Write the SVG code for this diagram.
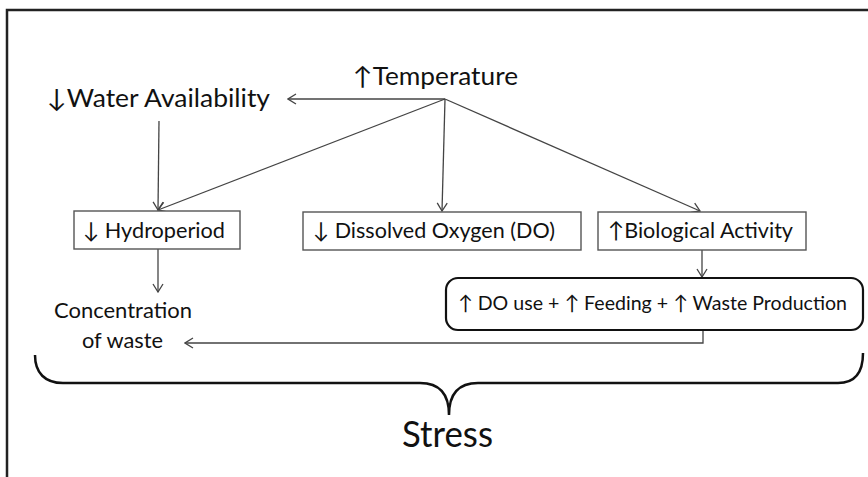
<svg xmlns="http://www.w3.org/2000/svg" width="868" height="477" viewBox="0 0 868 477">
<style>
text{font-family:Lato,"Open Sans","DejaVu Sans",sans-serif;fill:#111;}
.box{fill:#fff;stroke:#555;stroke-width:1.4;}
.rbox{fill:#fff;stroke:#111;stroke-width:2.2;}
.con{fill:none;stroke:#444;stroke-width:1.3;}
.big{font-size:25px;}
.mid{font-size:22px;}
.sm{font-size:21px;}
.pr{font-size:20px;}
</style>
<defs>
<marker id="ah" viewBox="0 0 10 12" markerWidth="10" markerHeight="12" refX="9" refY="6" orient="auto" markerUnits="userSpaceOnUse">
<path d="M1,1 L9,6 L1,11" fill="none" stroke="#444" stroke-width="1.3"/>
</marker>
</defs>
<rect width="868" height="477" fill="#fff"/>
<path d="M7,477 L7,10 L868,10" fill="none" stroke="#222" stroke-width="2.5"/>
<g id="connectors">
<path class="con" d="M445,99 L288,99" marker-end="url(#ah)"/>
<path class="con" d="M159,121 L158,210" marker-end="url(#ah)"/>
<path class="con" d="M445,99 L158,210" marker-end="url(#ah)"/>
<path class="con" d="M445,99 L442,211" marker-end="url(#ah)"/>
<path class="con" d="M445,99 L700,211" marker-end="url(#ah)"/>
<path class="con" d="M158,249 L158,292" marker-end="url(#ah)"/>
<path class="con" d="M702,250 L702,277" marker-end="url(#ah)"/>
<path class="con" d="M703,330 L703,343 L185,343" marker-end="url(#ah)"/>
</g>
<g id="temperature"><text class="big" x="353" y="85" textLength="165" lengthAdjust="spacingAndGlyphs">↑Temperature</text></g>
<g id="water"><text class="big" x="47" y="107" textLength="223" lengthAdjust="spacingAndGlyphs">↓Water Availability</text></g>
<g id="hydroperiod"><rect class="box" x="74" y="211" width="166" height="38"/><text class="mid" x="83" y="238" textLength="142" lengthAdjust="spacingAndGlyphs">↓ Hydroperiod</text></g>
<g id="dissolved"><rect class="box" x="303" y="212" width="278" height="38"/><text class="mid" x="313" y="238" textLength="242" lengthAdjust="spacingAndGlyphs">↓ Dissolved Oxygen (DO)</text></g>
<g id="biological"><rect class="box" x="598" y="212" width="208" height="38"/><text class="mid" x="608" y="238" textLength="185" lengthAdjust="spacingAndGlyphs">↑Biological Activity</text></g>
<g id="production"><rect class="rbox" x="446" y="278" width="417" height="52" rx="12" ry="12"/><text class="pr" x="458" y="310" textLength="389" lengthAdjust="spacingAndGlyphs">↑ DO use + ↑ Feeding + ↑  Waste Production</text></g>
<g id="concentration"><text class="sm" x="54" y="318" textLength="138" lengthAdjust="spacingAndGlyphs">Concentration</text><text class="sm" x="82" y="348" textLength="81" lengthAdjust="spacingAndGlyphs">of waste</text></g>
<g id="stress">
<path d="M35,355 C35,373 45,383 63,383 L420,383 C440,383 449,395 449,415 C449,395 458,383 478,383 L838,383 C856,383 863,372 863,353" fill="none" stroke="#111" stroke-width="2.5"/>
<text x="402" y="447" font-size="36" textLength="91" lengthAdjust="spacingAndGlyphs">Stress</text>
</g>
</svg>
